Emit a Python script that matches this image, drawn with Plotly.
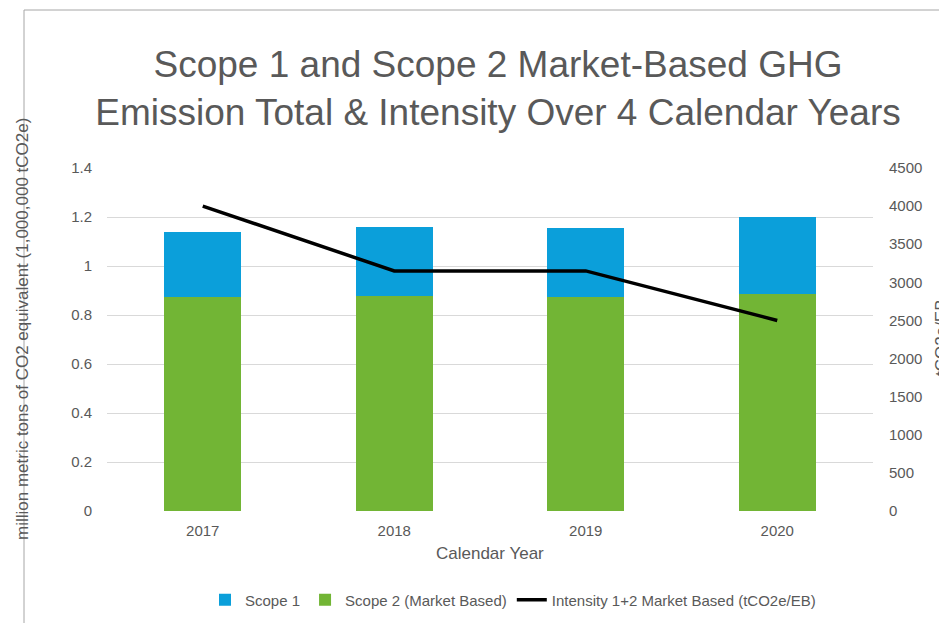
import plotly.graph_objects as go

# Data
years = ["2017", "2018", "2019", "2020"]
scope2 = [0.873, 0.879, 0.873, 0.887]
scope1 = [0.266, 0.280, 0.282, 0.313]
intensity = [4000, 3150, 3150, 2500]

TEXT = "#595959"
GRID = "#d9d9d9"
FONT = "Liberation Sans, Arial, sans-serif"

# the page body adds an 8px margin, so pixel targets are shifted by it
OFF = 8
L, R, T, B = 107 - OFF, 873 - OFF, 168 - OFF, 511 - OFF
PW, PH = R - L, B - T


def px_x(x):
    return (x - OFF - L) / PW


def px_y(y):
    return (B - (y - OFF)) / PH


fig = go.Figure()

fig.add_trace(go.Bar(
    x=years, y=scope2, name="Scope 2 (Market Based)",
    marker=dict(color="#72B535", line=dict(width=0)),
    width=0.4, legendrank=2
))
fig.add_trace(go.Bar(
    x=years, y=scope1, name="Scope 1",
    marker=dict(color="#0B9FDA", line=dict(width=0)),
    width=0.4, legendrank=1
))
fig.add_trace(go.Scatter(
    x=years, y=intensity, name="Intensity 1+2 Market Based (tCO2e/EB)",
    mode="lines", line=dict(color="black", width=3.5),
    yaxis="y2", legendrank=3
))

fig.update_layout(
    width=947, height=623,
    barmode="stack",
    paper_bgcolor="white", plot_bgcolor="white",
    margin=dict(l=L, r=947 - R, t=T, b=623 - B, autoexpand=False),
    font=dict(family=FONT, color=TEXT, size=15),
    title=dict(
        text="Scope 1 and Scope 2 Market-Based GHG<br>Emission Total & Intensity Over 4 Calendar Years",
        xref="container", yref="container",
        x=490 / 947, xanchor="center", y=1 - 69 / 623, yanchor="middle",
        font=dict(size=37, color=TEXT, family=FONT)
    ),
    xaxis=dict(
        showgrid=False, showline=False, ticks="",
        ticklabelstandoff=9, tickfont=dict(size=15)
    ),
    yaxis=dict(
        range=[0, 1.4], dtick=0.2, showgrid=True, gridcolor=GRID,
        zeroline=False, showline=False, ticklabelstandoff=14,
        tickformat="~g", tickfont=dict(size=15)
    ),
    yaxis2=dict(
        range=[0, 4500], dtick=500, overlaying="y", side="right",
        showgrid=False, zeroline=False, showline=False,
        ticklabelstandoff=15, tickfont=dict(size=15)
    ),
    legend=dict(
        orientation="h", x=px_x(513), xanchor="center",
        y=px_y(600), yanchor="middle",
        font=dict(size=15), traceorder="normal"
    ),
    annotations=[
        dict(text="million metric tons of CO2 equivalent (1,000,000 tCO2e)",
             xref="paper", yref="paper", x=px_x(22), y=px_y(329),
             xanchor="center", yanchor="middle", textangle=-90,
             showarrow=False, font=dict(size=17, color=TEXT)),
        dict(text="Calendar Year", xref="paper", yref="paper",
             x=px_x(490), y=px_y(553),
             xanchor="center", yanchor="middle",
             showarrow=False, font=dict(size=17, color=TEXT)),
        # right axis title, partly cut off by the edge as in the original
        dict(text="tCO2e/EB", xref="paper", yref="paper",
             x=px_x(941), y=px_y(338),
             xanchor="center", yanchor="middle", textangle=-90,
             showarrow=False, font=dict(size=17, color=TEXT)),
    ],
    shapes=[dict(
        type="rect", xref="paper", yref="paper",
        x0=px_x(24), x1=px_x(1000), y0=px_y(700), y1=px_y(10),
        line=dict(color="#a6a6a6", width=1), layer="below"
    )]
)

fig.write_html("out.html")
